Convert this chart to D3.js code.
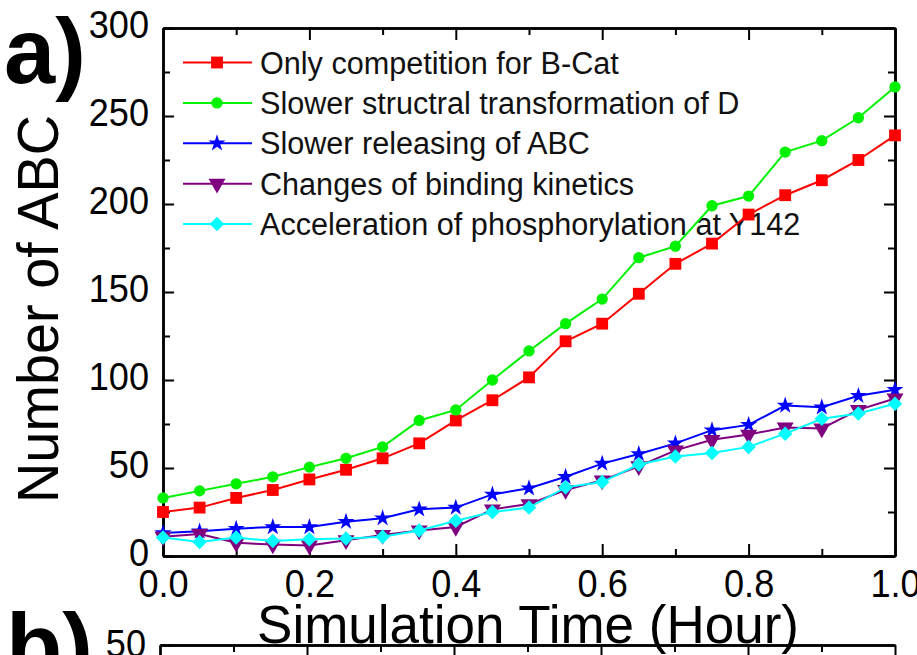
<!DOCTYPE html>
<html>
<head>
<meta charset="utf-8">
<script src="https://cdn.jsdelivr.net/npm/d3@7"></script>
<style>
    body { margin: 0; background: #fff; }
    svg { display: block; font-family: "Liberation Sans", Arial, sans-serif; }
</style>
</head>
<body>
<svg id="chart" width="917" height="655"></svg>
<script>
// simulation time (hour)
let times = [0, 0.05, 0.1, 0.15, 0.2, 0.25, 0.3, 0.35, 0.4, 0.45, 0.5,
    0.55, 0.6, 0.65, 0.7, 0.75, 0.8, 0.85, 0.9, 0.95, 1.0];

let onlyCompetition = [25, 27.5, 33, 37.5, 43.5, 49, 55.5, 64, 77, 88.5, 101.5,
    122, 132, 149, 166, 177.5, 194, 205, 213.5, 225, 239];
let slowerTransform = [33, 37, 41, 45, 50.5, 55.5, 62, 77, 83, 100, 116.5,
    132, 146, 169.5, 176, 199, 204.5, 229.5, 236, 249, 266.5];
let slowerRelease = [13, 14, 15.5, 16.5, 16.5, 19.5, 21.5, 26.5, 27.5, 35, 38.5,
    45, 52.5, 58, 64, 71.5, 74.5, 85.5, 84.5, 91, 94.5];
let bindingKinetics = [11, 12.5, 7.5, 6.5, 6, 9, 12, 14.5, 16.5, 26.5, 29.5,
    37.5, 43, 51, 60, 66, 69, 73, 72.5, 83, 89.5];
let acceleration = [10.5, 8, 10.5, 8.5, 9.5, 10, 11, 14.5, 20, 25, 27.5,
    39, 42, 52, 56.5, 58.5, 62, 69.5, 78, 81, 86.5];

let seriesNames = [
    'Only competition for B-Cat',
    'Slower structral transformation of D',
    'Slower releasing of ABC',
    'Changes of binding kinetics',
    'Acceleration of phosphorylation at Y142'
];
let seriesValues = [onlyCompetition, slowerTransform, slowerRelease, bindingKinetics, acceleration];
let seriesColors = ['#ff0000', '#00f200', '#0000ff', '#800080', '#00ffff'];

let xTicks = [0, 0.2, 0.4, 0.6, 0.8, 1.0];
let xMinorTicks = [0.1, 0.3, 0.5, 0.7, 0.9];
let yTicks = [0, 50, 100, 150, 200, 250, 300];
let yMinorTicks = [25, 75, 125, 175, 225, 275];

let svg = d3.select('#chart');

let x = d3.scaleLinear().domain([0, 1]).range([163, 895]);
let y = d3.scaleLinear().domain([0, 300]).range([556, 28]);

// marker symbols
let symbols = [
    {type: d3.symbolSquare, size: 140, rotate: 0},
    {type: d3.symbolCircle, size: 100, rotate: 0},
    {type: d3.symbolStar, size: 90, rotate: 0},
    {type: d3.symbolTriangle, size: 125, rotate: 180},
    {type: d3.symbolSquare, size: 105, rotate: 45}
];

function drawAxis(axis, tx, ty) {
    let g = svg.append('g')
        .attr('transform', 'translate(' + tx + ',' + ty + ')')
        .call(axis);
    g.select('.domain').attr('stroke-width', 2.5);
    g.selectAll('.tick line').attr('stroke-width', 2);
    return g;
}

// tick labels look a bit taller than wide in the original
function styleLabels(g, dy) {
    g.selectAll('.tick text')
        .attr('fill', '#000')
        .attr('font-size', 38)
        .attr('y', function () { return +d3.select(this).attr('y') + dy; })
        .each(function () {
            let w = this.getComputedTextLength();
            d3.select(this).attr('textLength', w * 0.95).attr('lengthAdjust', 'spacingAndGlyphs');
        });
}

// panel a frame and ticks
let xBottom = drawAxis(d3.axisBottom(x).tickValues(xTicks).tickSize(-12).tickSizeOuter(0)
    .tickPadding(14).tickFormat(d3.format('.1f')), 0, 556);
styleLabels(xBottom, 0);
drawAxis(d3.axisBottom(x).tickValues(xMinorTicks).tickSize(-7).tickSizeOuter(0).tickFormat(''), 0, 556);
drawAxis(d3.axisTop(x).tickValues(xTicks).tickSize(-12).tickSizeOuter(0).tickFormat(''), 0, 28);
drawAxis(d3.axisTop(x).tickValues(xMinorTicks).tickSize(-7).tickSizeOuter(0).tickFormat(''), 0, 28);

let yLeft = drawAxis(d3.axisLeft(y).tickValues(yTicks).tickSize(-11).tickSizeOuter(0)
    .tickPadding(14), 163, 0);
styleLabels(yLeft, -3);
drawAxis(d3.axisLeft(y).tickValues(yMinorTicks).tickSize(-7).tickSizeOuter(0).tickFormat(''), 163, 0);
drawAxis(d3.axisRight(y).tickValues(yTicks).tickSize(-11).tickSizeOuter(0).tickFormat(''), 895, 0);
drawAxis(d3.axisRight(y).tickValues(yMinorTicks).tickSize(-7).tickSizeOuter(0).tickFormat(''), 895, 0);

// axis titles
svg.append('text')
    .attr('x', 528)
    .attr('y', 643)
    .attr('text-anchor', 'middle')
    .attr('font-size', 53)
    .text('Simulation Time (Hour)');

svg.append('text')
    .attr('transform', 'translate(58,309) rotate(-90)')
    .attr('text-anchor', 'middle')
    .attr('font-size', 58)
    .attr('textLength', 388)
    .attr('lengthAdjust', 'spacingAndGlyphs')
    .text('Number of ABC');

svg.append('text')
    .attr('x', 4)
    .attr('y', 83)
    .attr('font-size', 92)
    .attr('font-weight', 'bold')
    .text('a)');

// panel b (top edge only visible)
let xB = d3.scaleLinear().domain([0, 1]).range([160, 895]);
let yB = d3.scaleLinear().domain([0, 50]).range([900, 645]);
drawAxis(d3.axisTop(xB).tickValues(xTicks).tickSize(-12).tickSizeOuter(0).tickFormat(''), 0, 645);
drawAxis(d3.axisTop(xB).tickValues(xMinorTicks).tickSize(-7).tickSizeOuter(0).tickFormat(''), 0, 645);
let yBLeft = drawAxis(d3.axisLeft(yB).tickValues([50]).tickSize(-11).tickSizeOuter(0).tickPadding(14), 160, 0);
styleLabels(yBLeft, -1);

svg.append('text')
    .attr('x', 6)
    .attr('y', 678)
    .attr('font-size', 92)
    .attr('font-weight', 'bold')
    .text('b)');

// legend
let legend = svg.append('g');
seriesNames.forEach(function (name, i) {
    let ly = 62.5 + i * 40.4;
    legend.append('line')
        .attr('x1', 183).attr('x2', 252)
        .attr('y1', ly).attr('y2', ly)
        .attr('stroke', seriesColors[i])
        .attr('stroke-width', 2);
    legend.append('path')
        .attr('d', d3.symbol().type(symbols[i].type).size(symbols[i].size)())
        .attr('transform', 'translate(217,' + ly + ') rotate(' + symbols[i].rotate + ')')
        .attr('fill', seriesColors[i]);
    legend.append('text')
        .attr('x', 260)
        .attr('y', ly + 11)
        .attr('font-size', 30.6)
        .attr('fill', '#111')
        .text(name);
});

// series lines and markers
let line = d3.line()
    .x((d, i) => x(times[i]))
    .y(d => y(d));

seriesValues.forEach(function (values, i) {
    svg.append('path')
        .datum(values)
        .attr('fill', 'none')
        .attr('stroke', seriesColors[i])
        .attr('stroke-width', 2)
        .attr('d', line);

    svg.selectAll('.marker-' + i)
        .data(values)
        .enter().append('path')
        .attr('class', 'marker-' + i)
        .attr('d', d3.symbol().type(symbols[i].type).size(symbols[i].size)())
        .attr('transform', (d, j) => 'translate(' + x(times[j]) + ',' + y(d) + ') rotate(' + symbols[i].rotate + ')')
        .attr('fill', seriesColors[i]);
});
</script>
</body>
</html>
